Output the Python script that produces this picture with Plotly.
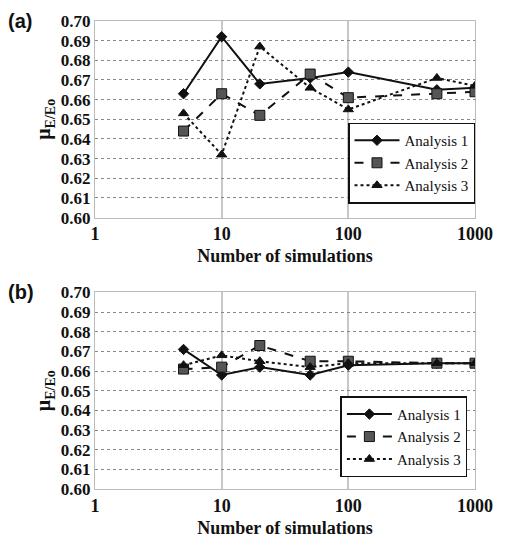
import plotly.graph_objects as go
from plotly.subplots import make_subplots

n_sims = [5, 10, 20, 50, 100, 500, 1000]

a_analysis1 = [0.663, 0.692, 0.668, 0.671, 0.674, 0.665, 0.666]
a_analysis2 = [0.644, 0.663, 0.652, 0.673, 0.661, 0.663, 0.664]
a_analysis3 = [0.653, 0.632, 0.687, 0.666, 0.655, 0.671, 0.667]

b_analysis1 = [0.671, 0.658, 0.662, 0.658, 0.663, 0.664, 0.664]
b_analysis2 = [0.661, 0.662, 0.673, 0.665, 0.665, 0.664, 0.664]
b_analysis3 = [0.663, 0.668, 0.665, 0.662, 0.664, 0.664, 0.664]

y_ticks = [0.60, 0.61, 0.62, 0.63, 0.64, 0.65, 0.66, 0.67, 0.68, 0.69, 0.70]
x_ticks = [1, 10, 100, 1000]

fig = make_subplots(rows=2, cols=1, vertical_spacing=0.16)

styles = [
    ("Analysis 1", "solid", "diamond", "#111111", 8),
    ("Analysis 2", "dash", "square", "#555555", 10),
    ("Analysis 3", "dot", "triangle-up", "#111111", 9),
]

for row, series, leg in [(1, [a_analysis1, a_analysis2, a_analysis3], "legend"),
                         (2, [b_analysis1, b_analysis2, b_analysis3], "legend2")]:
    for (name, dash, sym, col, sz), vals in zip(styles, series):
        fig.add_trace(go.Scatter(
            x=n_sims, y=vals, name=name, mode="lines+markers",
            line=dict(color="#111111", width=2, dash=dash),
            marker=dict(symbol=sym, size=sz, color=col,
                        line=dict(color="#111111", width=1)),
            legend=leg,
        ), row=row, col=1)

serif = "Liberation Serif, serif"
for row in (1, 2):
    fig.update_xaxes(type="log", range=[0, 3], tickvals=x_ticks,
                     ticktext=["<b>%d</b>" % v for v in x_ticks],
                     showgrid=True, gridcolor="#c8c8c8", gridwidth=2,
                     showline=True, linecolor="#bbbbbb", linewidth=1, mirror=True,
                     ticks="", zeroline=False,
                     tickfont=dict(family=serif, size=18, color="#111111"),
                     title=dict(text="<b>Number of simulations</b>",
                                font=dict(family=serif, size=18, color="#111111"),
                                standoff=6),
                     row=row, col=1)
    fig.update_yaxes(range=[0.60, 0.70], tickvals=y_ticks,
                     ticktext=["<b>%.2f</b>" % v for v in y_ticks],
                     showgrid=True, gridcolor="#888888", gridwidth=1, griddash="dot",
                     showline=True, linecolor="#bbbbbb", linewidth=1, mirror=True,
                     ticks="", zeroline=False,
                     tickfont=dict(family=serif, size=17, color="#111111"),
                     title=dict(text="<b>μ<sub>E/Eo</sub></b>",
                                font=dict(family=serif, size=20, color="#111111"),
                                standoff=4),
                     row=row, col=1)

legend_style = dict(bgcolor="white", bordercolor="#111111", borderwidth=1.5,
                    font=dict(family=serif, size=15, color="#111111"),
                    xanchor="right", yanchor="bottom", tracegroupgap=0,
                    itemwidth=45)
fig.update_layout(
    width=505, height=546,
    font=dict(family=serif, color="#111111"),
    margin=dict(l=95, r=22, t=15, b=55),
    plot_bgcolor="white", paper_bgcolor="white",
    legend=dict(x=1.0, y=0.61, **legend_style),
    legend2=dict(x=0.98, y=0.025, **legend_style),
    showlegend=True,
)

fig.add_annotation(text="<b>(a)</b>", x=-0.235, y=1.0, xref="paper", yref="paper",
                   xanchor="left", yanchor="middle", showarrow=False,
                   font=dict(family="Liberation Sans", size=20, color="#111111"))
fig.add_annotation(text="<b>(b)</b>", x=-0.235, y=0.42, xref="paper", yref="paper",
                   xanchor="left", yanchor="middle", showarrow=False,
                   font=dict(family="Liberation Sans", size=20, color="#111111"))

fig.write_html("out.html")
